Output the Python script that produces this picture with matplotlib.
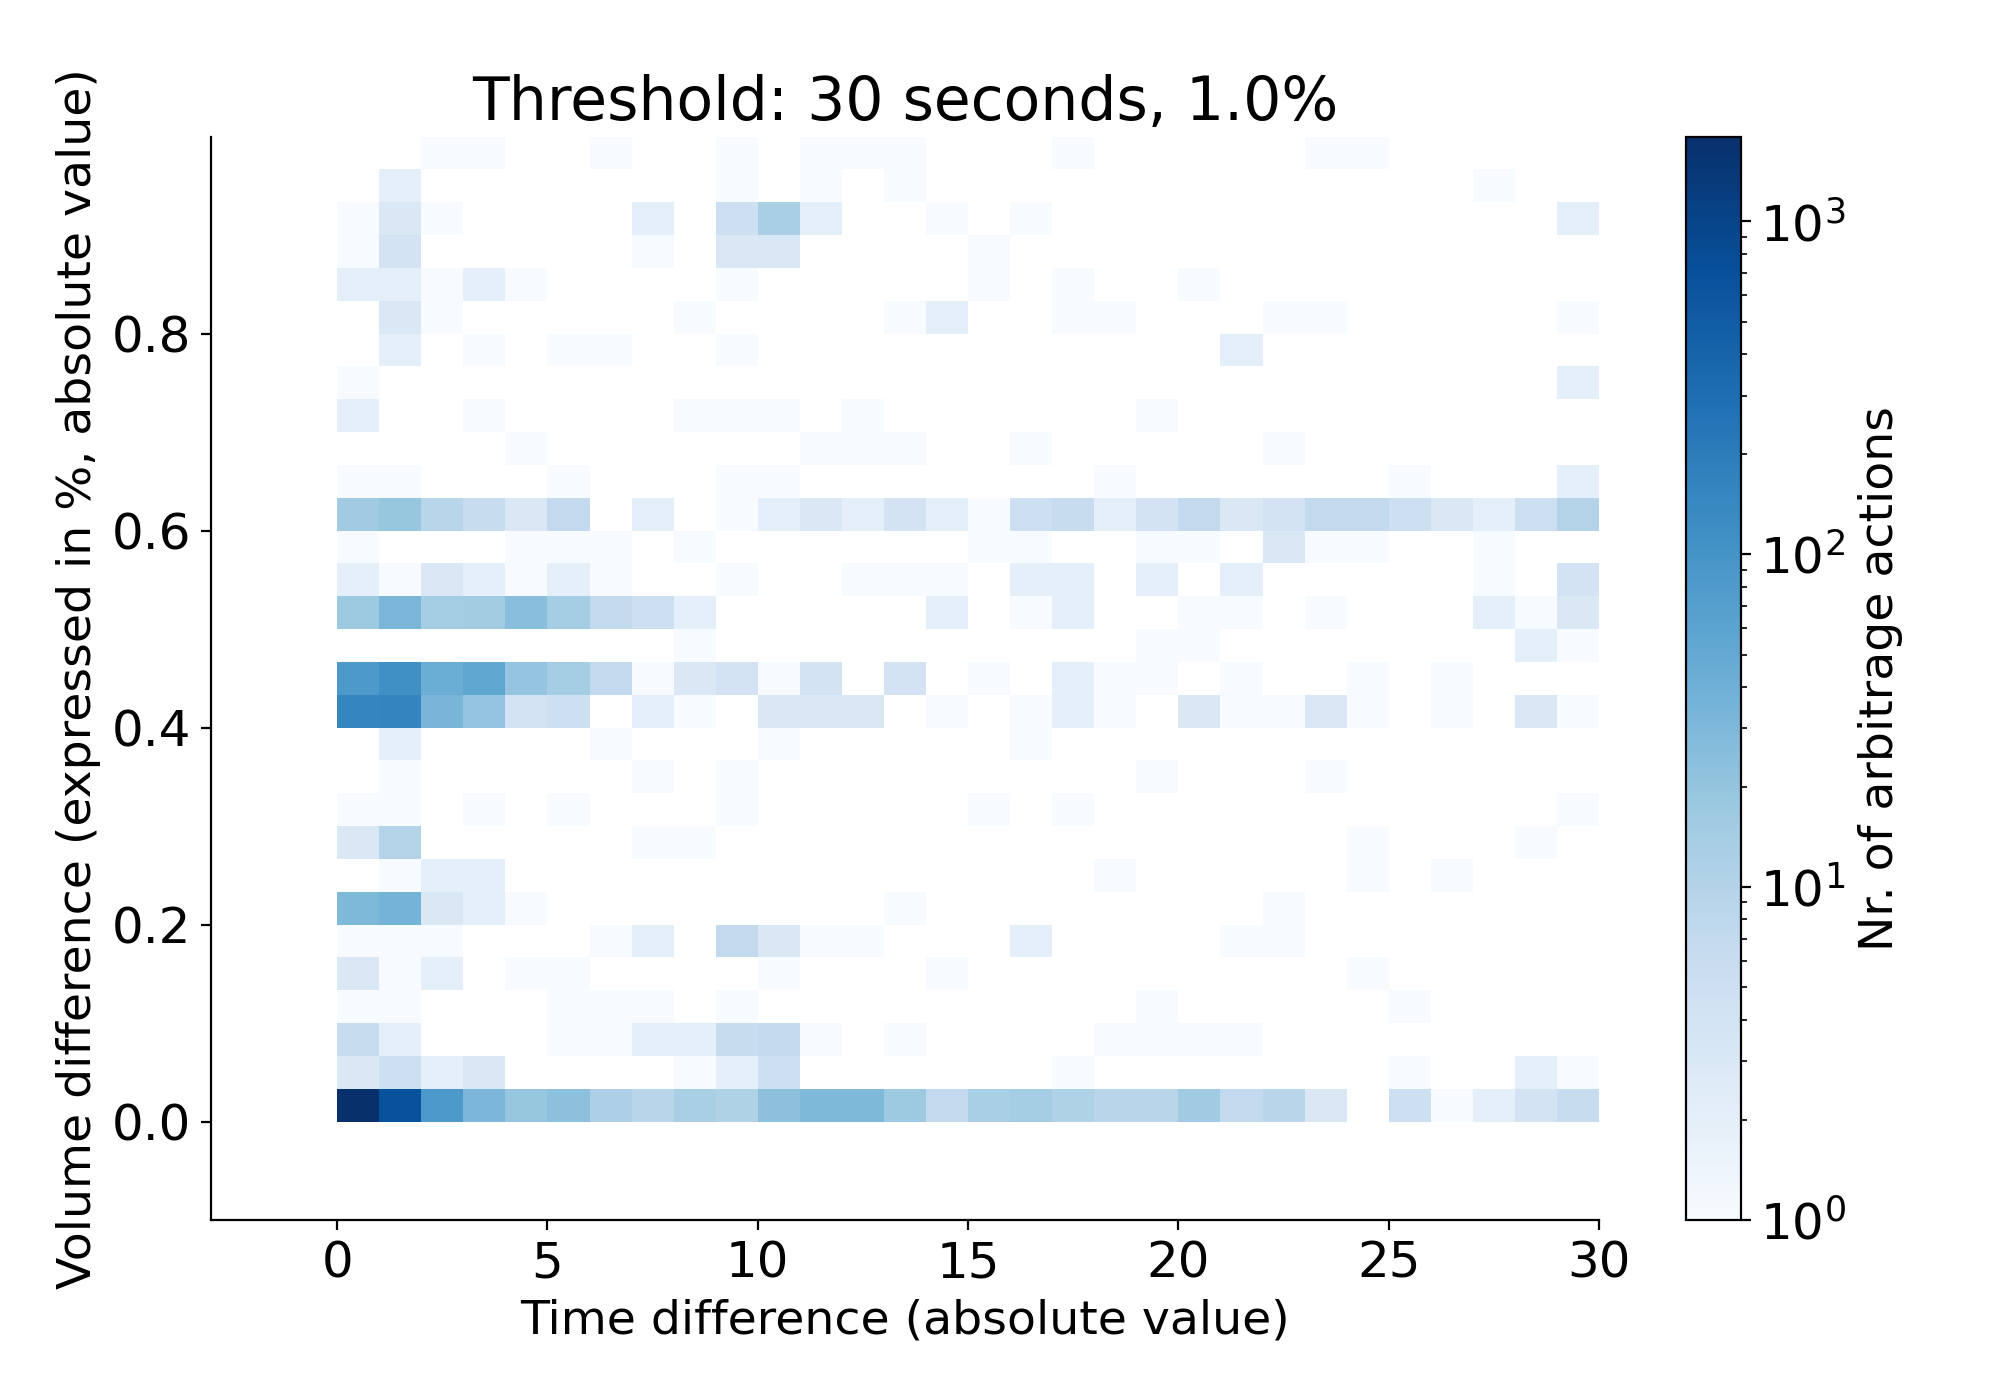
import numpy as np
import matplotlib
matplotlib.use("Agg")
import matplotlib.pyplot as plt
from matplotlib.colors import LogNorm

title = "Threshold: 30 seconds, 1.0%"
xlabel = "Time difference (absolute value)"
ylabel = "Volume difference (expressed in %, absolute value)"
cbar_label = "Nr. of arbitrage actions"

x_edges = np.arange(0, 31)
y_edges = np.linspace(0, 1, 31)
x_ticks = [0, 5, 10, 15, 20, 25, 30]
y_ticks = [0.0, 0.2, 0.4, 0.6, 0.8]

# counts, top row first
counts = [
    [0,0,1,1,0,0,1,0,0,1,0,1,1,1,0,0,0,1,0,0,0,0,0,1,1,0,0,0,0,0],
    [0,2,0,0,0,0,0,0,0,1,0,1,0,1,0,0,0,0,0,0,0,0,0,0,0,0,0,1,0,0],
    [1,3,1,0,0,0,0,2,0,5,13,2,0,0,1,0,1,0,0,0,0,0,0,0,0,0,0,0,0,2],
    [1,4,0,0,0,0,0,1,0,3,3,0,0,0,0,1,0,0,0,0,0,0,0,0,0,0,0,0,0,0],
    [2,2,1,2,1,0,0,0,0,1,0,0,0,0,0,1,0,1,0,0,1,0,0,0,0,0,0,0,0,0],
    [0,3,1,0,0,0,0,0,1,0,0,0,0,1,2,0,0,1,1,0,0,0,1,1,0,0,0,0,0,1],
    [0,2,0,1,0,1,1,0,0,1,0,0,0,0,0,0,0,0,0,0,0,2,0,0,0,0,0,0,0,0],
    [1,0,0,0,0,0,0,0,0,0,0,0,0,0,0,0,0,0,0,0,0,0,0,0,0,0,0,0,0,2],
    [2,0,0,1,0,0,0,0,1,1,1,0,1,0,0,0,0,0,0,1,0,0,0,0,0,0,0,0,0,0],
    [0,0,0,0,1,0,0,0,0,0,0,1,1,1,0,0,1,0,0,0,0,0,1,0,0,0,0,0,0,0],
    [1,1,0,0,0,1,0,0,0,1,1,0,0,0,0,0,0,0,1,0,0,0,0,0,0,1,0,0,0,2],
    [16,19,9,6,3,7,0,2,0,1,2,3,2,4,2,1,5,6,2,4,7,3,4,7,7,5,3,2,5,10],
    [1,0,0,0,1,1,1,0,1,0,0,0,0,0,0,1,1,0,0,1,1,0,3,1,1,0,0,1,0,0],
    [2,1,3,2,1,2,1,0,0,1,0,0,1,1,1,0,2,2,0,2,0,2,0,0,0,0,0,1,0,4],
    [17,32,14,15,25,14,7,5,2,0,0,0,0,0,2,0,1,2,0,0,1,1,0,1,0,0,0,2,1,3],
    [0,0,0,0,0,0,0,0,1,0,0,0,0,0,0,0,0,0,0,1,1,0,0,0,0,0,0,0,2,1],
    [84,112,43,56,20,14,7,1,3,4,1,4,0,4,0,1,0,2,1,1,0,1,0,0,1,0,1,0,0,0],
    [156,160,33,20,4,5,0,2,1,0,3,3,3,0,1,0,1,2,1,0,3,1,1,3,1,0,1,0,3,1],
    [0,2,0,0,0,0,1,0,0,0,1,0,0,0,0,0,1,0,0,0,0,0,0,0,0,0,0,0,0,0],
    [0,1,0,0,0,0,0,1,0,1,0,0,0,0,0,0,0,0,0,1,0,0,0,1,0,0,0,0,0,0],
    [1,1,0,1,0,1,0,0,0,1,0,0,0,0,0,1,0,1,0,0,0,0,0,0,0,0,0,0,0,1],
    [3,10,0,0,0,0,0,1,1,0,0,0,0,0,0,0,0,0,0,0,0,0,0,0,1,0,0,0,1,0],
    [0,1,2,2,0,0,0,0,0,0,0,0,0,0,0,0,0,0,1,0,0,0,0,0,1,0,1,0,0,0],
    [29,35,3,2,1,0,0,0,0,0,0,0,0,1,0,0,0,0,0,0,0,0,1,0,0,0,0,0,0,0],
    [1,1,1,0,0,0,1,2,0,7,3,1,1,0,0,0,2,0,0,0,0,1,1,0,0,0,0,0,0,0],
    [3,1,2,0,1,1,0,0,0,0,1,0,0,0,1,0,0,0,0,0,0,0,0,0,1,0,0,0,0,0],
    [1,1,0,0,0,1,1,1,0,1,0,0,0,0,0,0,0,0,0,1,0,0,0,0,0,1,0,0,0,0],
    [6,2,0,0,0,1,1,2,2,6,7,1,0,1,0,0,0,0,1,1,1,1,0,0,0,0,0,0,0,0],
    [3,5,2,3,0,0,0,0,1,2,5,0,0,0,0,0,0,1,0,0,0,0,0,0,0,1,0,0,2,1],
    [1800,700,85,31,19,23,12,9,13,11,23,29,29,17,7,13,14,11,9,9,16,7,9,3,0,5,1,2,4,6],
]

data = np.array(counts, dtype=float)[::-1]
data = np.ma.masked_where(data == 0, data)

fig = plt.figure(figsize=(10, 7), dpi=200)
ax = fig.add_axes([211 / 2000, 1 - 1220 / 1400, (1599 - 211) / 2000, (1220 - 136.5) / 1400])
cax = fig.add_axes([1686 / 2000, 1 - 1220 / 1400, (1741 - 1686) / 2000, (1220 - 136.5) / 1400])

mesh = ax.pcolormesh(x_edges, y_edges, data, cmap="Blues", norm=LogNorm(vmin=1, vmax=1800))
ax.set_xlim(-3, 30)
ax.set_ylim(-0.1, 1.0)
ax.set_xticks(x_ticks)
ax.set_yticks(y_ticks)
ax.tick_params(labelsize=18)
ax.spines["top"].set_visible(False)
ax.spines["right"].set_visible(False)
ax.set_xlabel(xlabel, fontsize=17.05)
ax.set_ylabel(ylabel, fontsize=17.05)
ax.set_title(title, fontsize=21.6)

cb = fig.colorbar(mesh, cax=cax)
cb.ax.tick_params(labelsize=18)
cb.set_label(cbar_label, fontsize=17.05)

plt.savefig("out.png", dpi=200)
